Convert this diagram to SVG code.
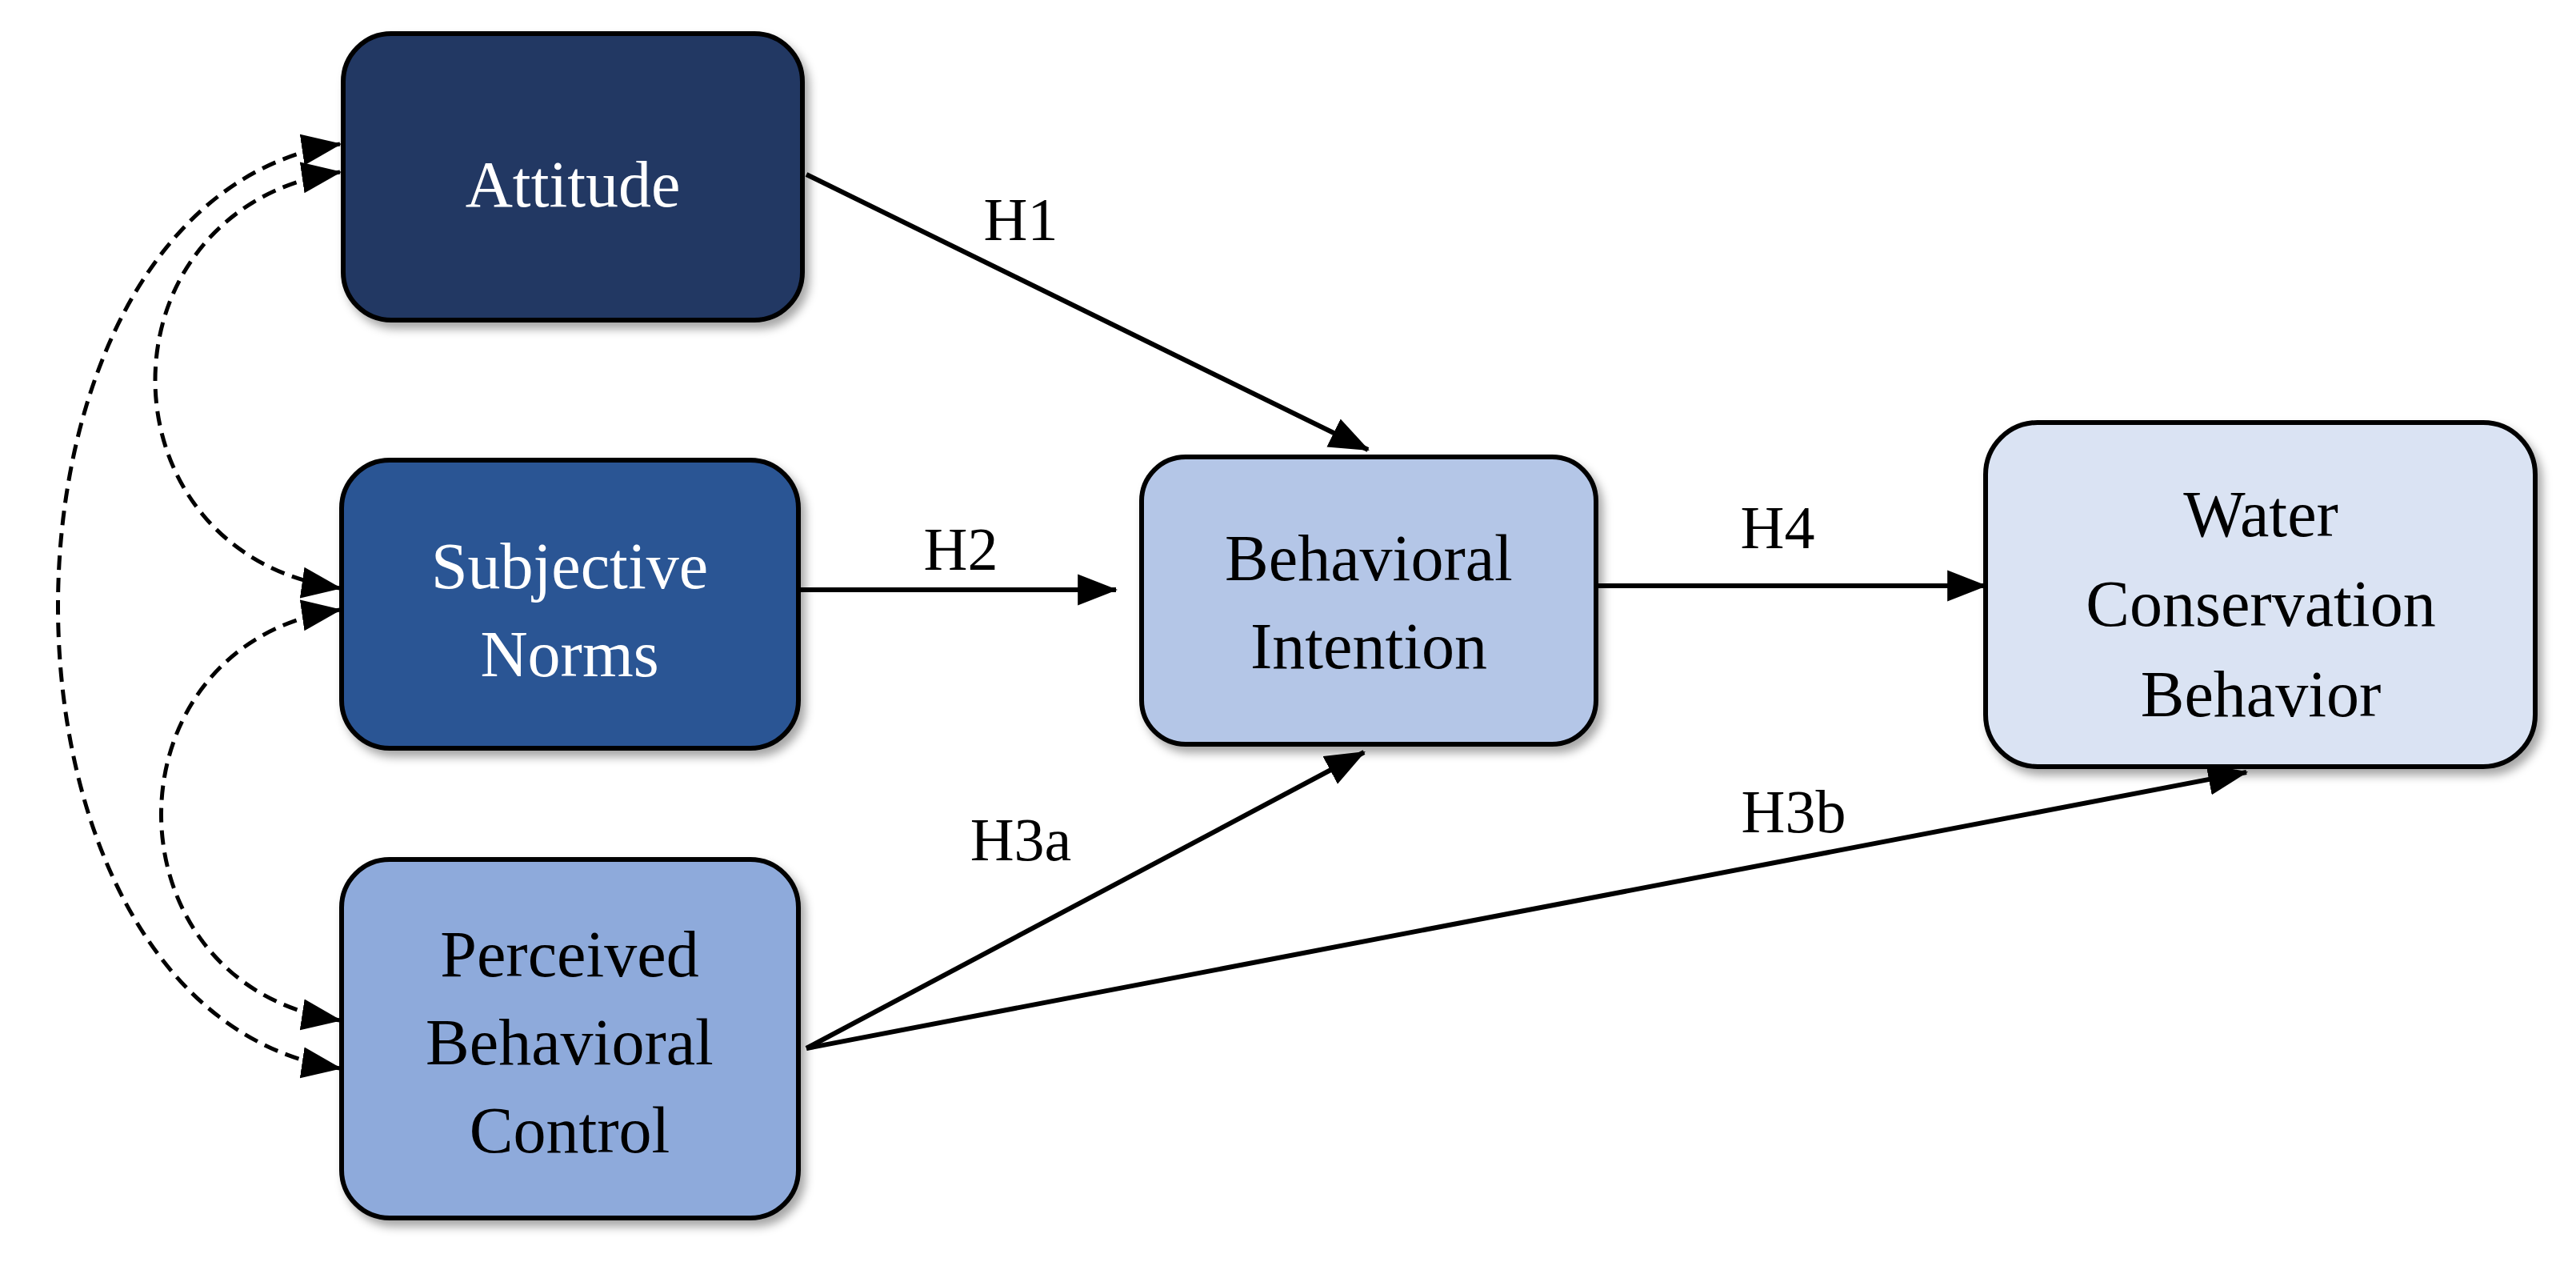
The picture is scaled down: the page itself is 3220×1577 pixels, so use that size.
<svg xmlns="http://www.w3.org/2000/svg" width="3220" height="1577" viewBox="0 0 3220 1577">
<style>
.box{stroke:#000;stroke-width:6}
.t{font-family:"Liberation Serif",serif;font-size:82px;text-anchor:middle}
.w{fill:#fff}.k{fill:#000}
.lbl{font-family:"Liberation Serif",serif;font-size:76px;text-anchor:middle;fill:#000}
.c{stroke:#000;stroke-width:6;fill:none}
.d{stroke:#000;stroke-width:5;fill:none;stroke-dasharray:18 10}
</style>
<defs>
<marker id="ah" markerUnits="userSpaceOnUse" markerWidth="50" markerHeight="40" refX="44" refY="18" orient="auto-start-reverse" viewBox="0 0 46 36">
<path d="M0,0 L46,18 L0,36 Z" fill="#000"/>
</marker>
<filter id="sh" x="-10%" y="-10%" width="125%" height="130%">
<feDropShadow dx="6" dy="8" stdDeviation="6" flood-color="#000" flood-opacity="0.35"/>
</filter>
</defs>
<rect width="3220" height="1577" fill="#fff"/>
<g id="connectors">
<path class="c" d="M1008,218 L1710,562" marker-end="url(#ah)"/>
<path class="c" d="M998,737 L1395,737" marker-end="url(#ah)"/>
<path class="c" d="M1995,732 L2482,732" marker-end="url(#ah)"/>
<path class="c" d="M1008,1310 L1705,940" marker-end="url(#ah)"/>
<path class="c" d="M1008,1310 L2808,965" marker-end="url(#ah)"/>
<path class="d" d="M425,180 C-45,250 -45,1265 425,1335" marker-start="url(#ah)" marker-end="url(#ah)"/>
<path class="d" d="M425,215 C117,260 117,690 425,735" marker-start="url(#ah)" marker-end="url(#ah)"/>
<path class="d" d="M425,762 C127,805 127,1230 425,1275" marker-start="url(#ah)" marker-end="url(#ah)"/>
<text class="lbl" x="1276" y="300">H1</text>
<text class="lbl" x="1201" y="712">H2</text>
<text class="lbl" x="2222" y="685">H4</text>
<text class="lbl" x="1276" y="1075">H3a</text>
<text class="lbl" x="2242" y="1040">H3b</text>
</g>
<g id="attitude">
<rect class="box" x="429" y="42" width="574" height="358" rx="60" fill="#213864" filter="url(#sh)"/>
<text class="t w" x="716" y="258">Attitude</text>
</g>
<g id="subjective-norms">
<rect class="box" x="427" y="575" width="571" height="360" rx="60" fill="#2c5494" filter="url(#sh)"/>
<text class="t w" x="712" y="735">Subjective</text>
<text class="t w" x="712" y="845">Norms</text>
</g>
<g id="pbc">
<rect class="box" x="427" y="1074" width="571" height="448" rx="60" fill="#8eaadb" filter="url(#sh)"/>
<text class="t k" x="712" y="1220">Perceived</text>
<text class="t k" x="712" y="1330">Behavioral</text>
<text class="t k" x="712" y="1440">Control</text>
</g>
<g id="behavioral-intention">
<rect class="box" x="1427" y="571" width="568" height="359" rx="55" fill="#b4c6e7" filter="url(#sh)"/>
<text class="t k" x="1711" y="725">Behavioral</text>
<text class="t k" x="1711" y="835">Intention</text>
</g>
<g id="water-conservation-behavior">
<rect class="box" x="2482" y="528" width="687" height="430" rx="65" fill="#dae3f3" filter="url(#sh)"/>
<text class="t k" x="2826" y="670">Water</text>
<text class="t k" x="2826" y="782">Conservation</text>
<text class="t k" x="2826" y="895">Behavior</text>
</g>
</svg>
